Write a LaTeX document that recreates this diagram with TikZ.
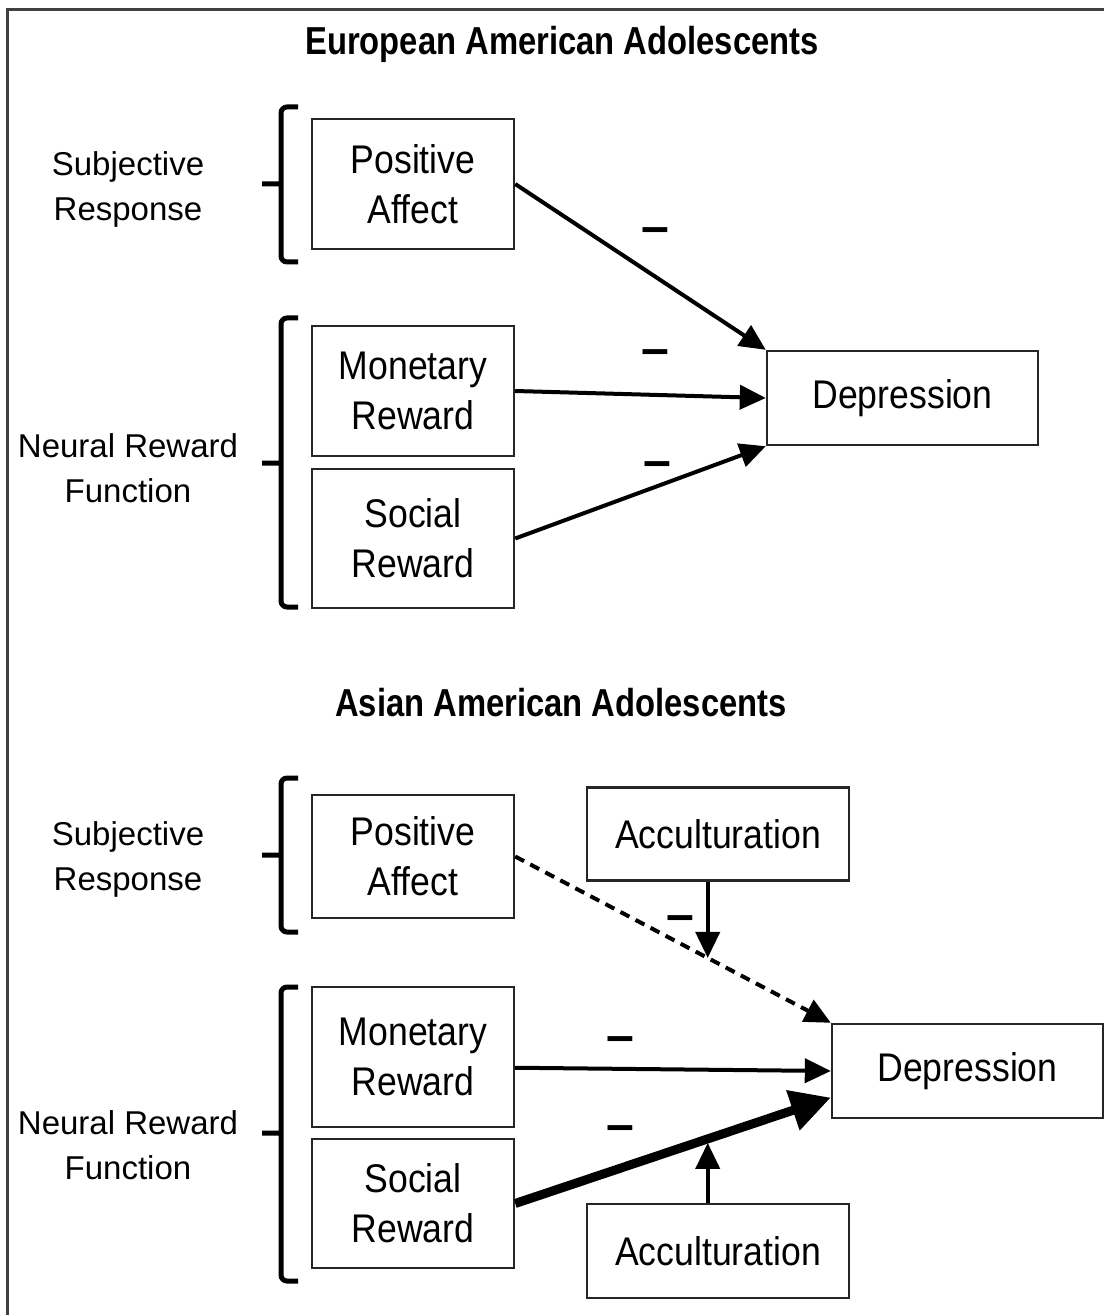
\documentclass[tikz,border=0pt]{standalone}
\usepackage{fontspec}
\setmainfont{Liberation Sans}
\newfontfamily\cajafont[FakeStretch=0.89]{Liberation Sans}
\newfontfamily\titulofont[FakeStretch=0.84]{Liberation Sans}
\usetikzlibrary{arrows.meta}

\tikzset{
  caja/.style={draw=black!85, line width=1.2pt, inner sep=0pt, align=center,
    minimum width=101pt, font=\cajafont\fontsize{20}{25}\selectfont},
  titulo/.style={anchor=base, font=\titulofont\bfseries\fontsize{19.5}{24}\selectfont},
  etiqueta/.style={align=center, font=\fontsize{16.5}{22.5}\selectfont},
  signo/.style={font=\bfseries\fontsize{25}{30}\selectfont},
  flecha/.style={line width=2pt, -{Triangle[length=13pt,width=12pt]}},
  llave/.style={line width=2.5pt, rounded corners=3pt},
}

\begin{document}
\begin{tikzpicture}[x=0.5pt, y=-0.5pt]
        \useasboundingbox (0,0) rectangle (1104,1315);

        % Marco
        \draw[black!75, line width=1.5pt] (7.5,1315) -- (7.5,9.5) -- (1104,9.5);

        % Adolescentes europeo-americanos
        \node[titulo] (t1) at (562,55) {European American Adolescents};
        \node[etiqueta] (sr1) at (128,189) {Subjective\\Response};
        \node[etiqueta] (nr1) at (128,468) {Neural Reward\\Function};

        \node[caja, minimum height=65pt] (pa1) at (413,184) {Positive\\Affect};
        \node[caja, minimum height=65pt] (mon1) at (413,391) {Monetary\\Reward};
        \node[caja, minimum height=69.5pt] (soc1) at (413,538.5) {Social\\Reward};
        \node[caja, minimum width=135.5pt, minimum height=47pt] (dep1) at (902.5,398) {Depression};

        \draw[flecha] (pa1.east) -- (dep1.north west);
        \draw[flecha] (mon1.east) -- (dep1.west);
        \draw[flecha] (soc1.east) -- (dep1.south west);

        \node[signo] (s1) at (655,236) {–};
        \node[signo] (s2) at (655,358) {–};
        \node[signo] (s3) at (657,470) {–};

        % Adolescentes asiatico-americanos
        \node[titulo] (t2) at (561,716) {Asian American Adolescents};
        \node[etiqueta] (sr2) at (128,859) {Subjective\\Response};
        \node[etiqueta] (nr2) at (128,1145) {Neural Reward\\Function};

        \node[caja, minimum height=61.5pt] (pa2) at (413,856.5) {Positive\\Affect};
        \node[caja, minimum height=70pt] (mon2) at (413,1057) {Monetary\\Reward};
        \node[caja, minimum height=64.5pt] (soc2) at (413,1203.5) {Social\\Reward};
        \node[caja, minimum width=131pt, minimum height=46.5pt] (acc1) at (718,834) {Acculturation};
        \node[caja, minimum width=131pt, minimum height=47pt] (acc2) at (718,1251) {Acculturation};
        \node[caja, minimum width=135.5pt, minimum height=47pt] (dep2) at (967.5,1071) {Depression};

        \draw[flecha, dash pattern=on 5pt off 3.5pt] (pa2.east) -- (dep2.north west)
          coordinate[pos=0.61] (m1);
        \draw[flecha] (mon2.-6) -- (dep2.west);
        \draw[line width=4.5pt, -{Triangle[length=20pt,width=20pt]}] (soc2.east) -- (dep2.-169)
          coordinate[pos=0.61] (m2);

        % Moderadores
        \draw[flecha] (acc1.south -| m1) -- (m1);
        \draw[flecha, shorten >=2pt] (acc2.north -| m2) -- (m2);

        \node[signo] (s4) at (680,924) {–};
        \node[signo] (s5) at (620,1045) {–};
        \node[signo] (s6) at (620,1134) {–};

        % Llaves
        \foreach \t/\m/\b in {107/184/262, 318/463/607, 778/855/932, 987/1133/1281}
          \draw[llave] (298,\t) -- (281,\t) -- (281,\b) -- (298,\b) (281,\m) -- (262,\m);

    \end{tikzpicture}
\end{document}
